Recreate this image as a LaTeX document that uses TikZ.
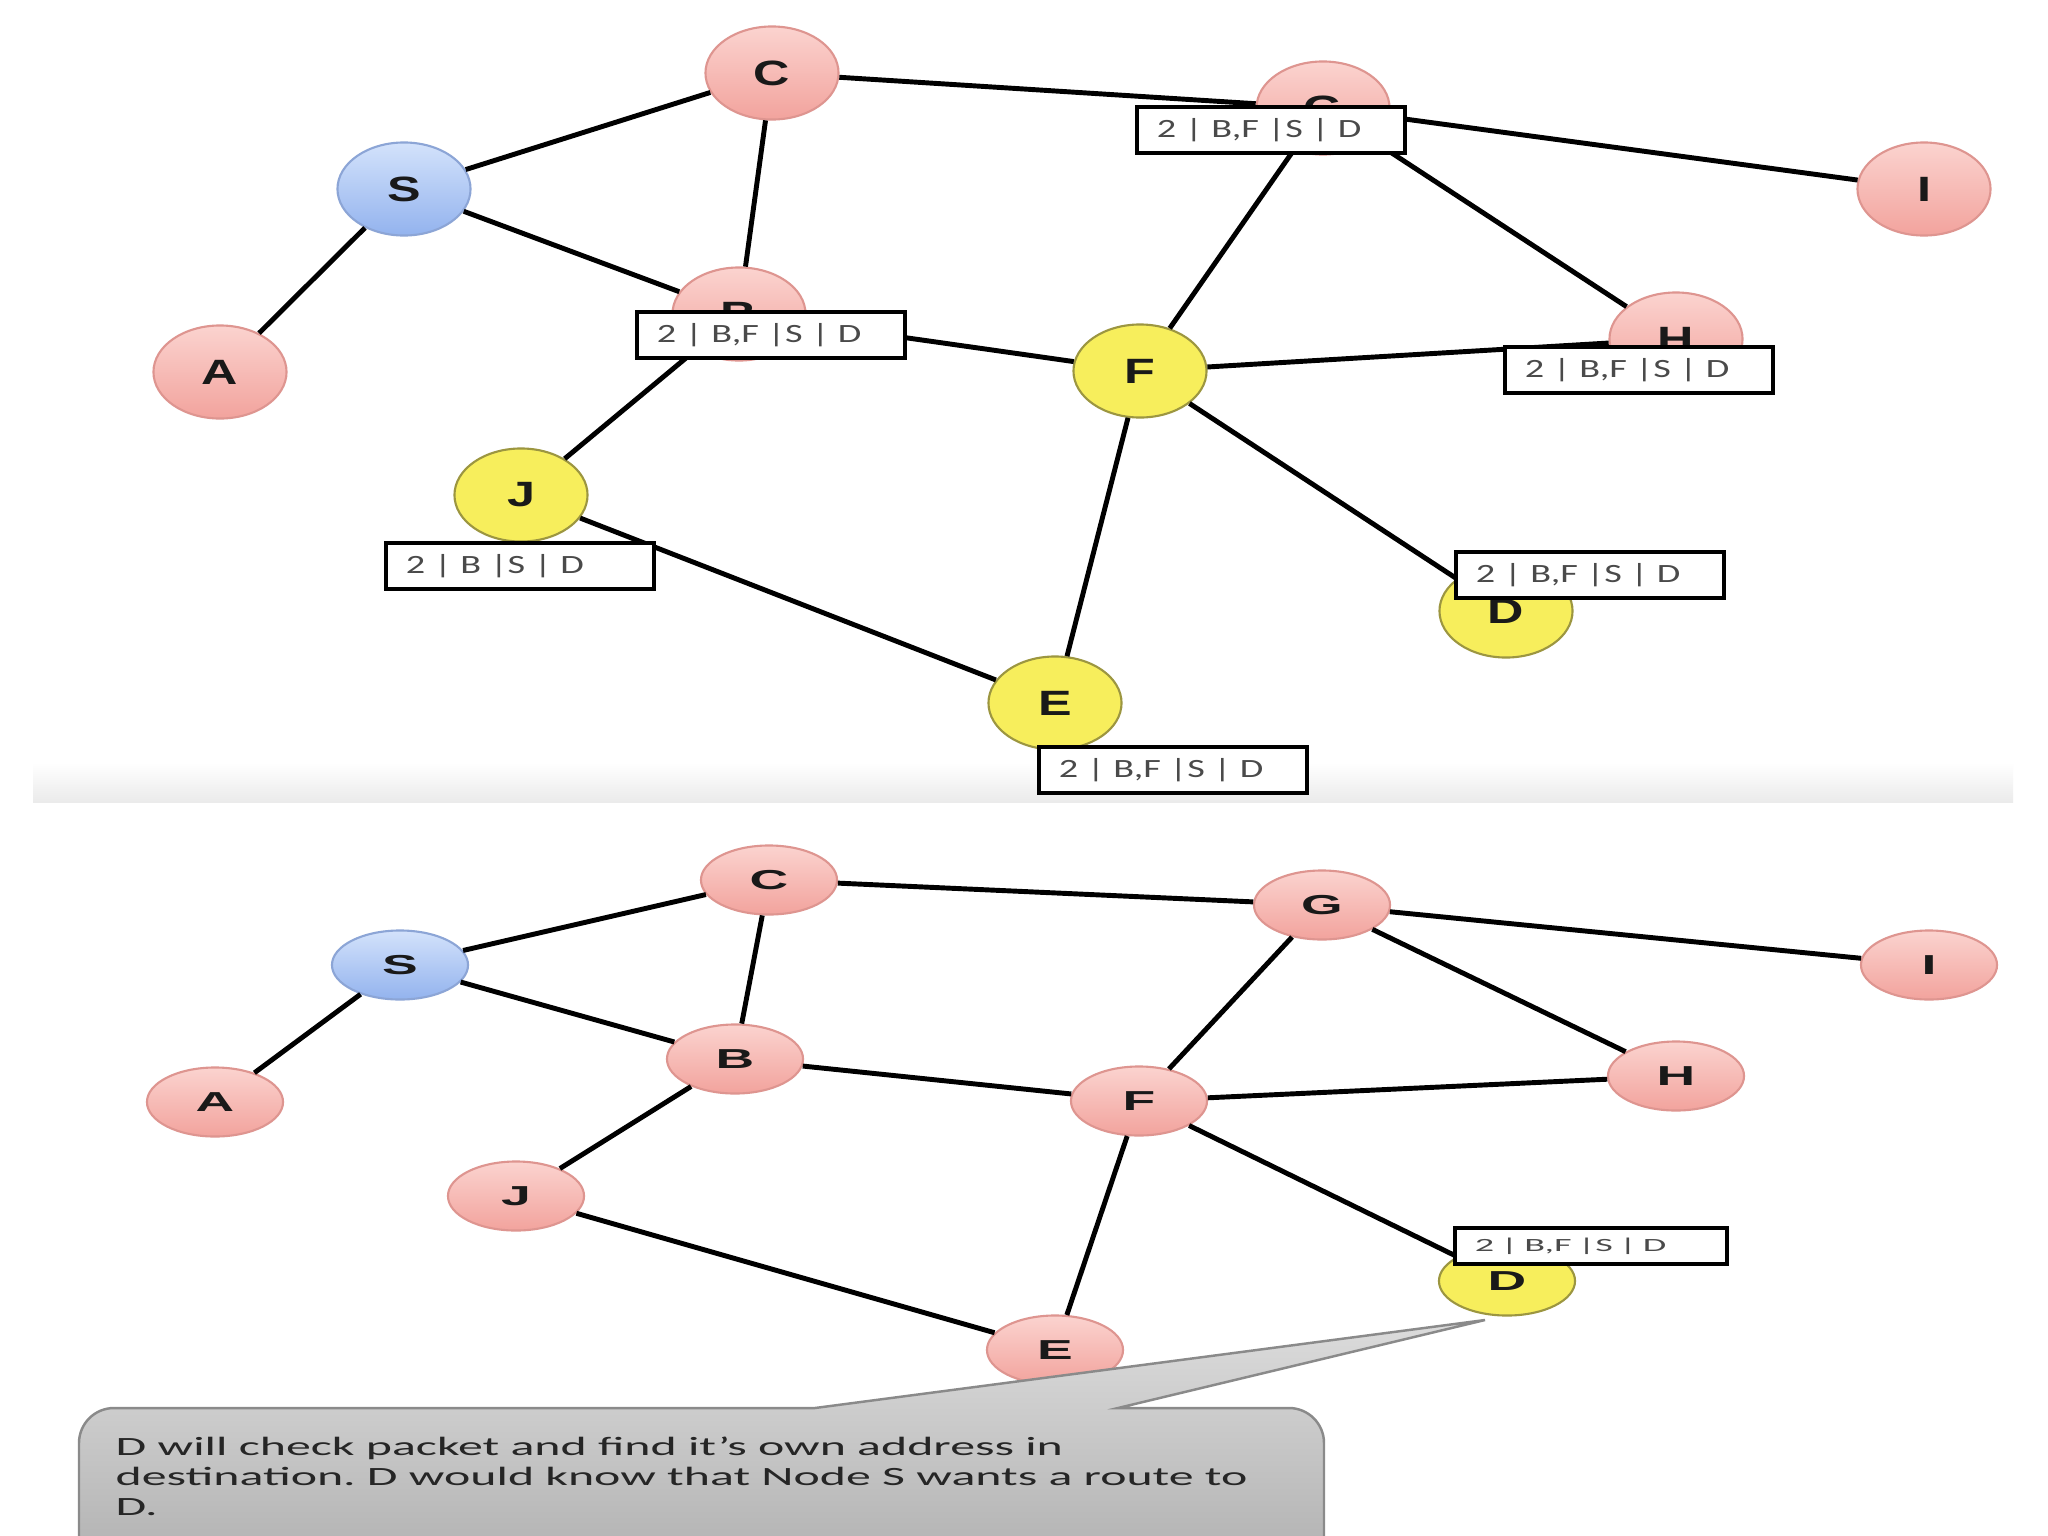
\documentclass[tikz,border=0pt]{standalone}
\usepackage{fontspec}
\usetikzlibrary{shapes.geometric}
\newfontfamily\nfA[FakeStretch=1.43]{Liberation Sans}
\newfontfamily\nfB[FakeStretch=1.95]{Liberation Sans}
\newfontfamily\lfA[FakeStretch=1.45]{Carlito}
\newfontfamily\lfB[FakeStretch=2.05]{Carlito}
\newfontfamily\cfont[FakeStretch=1.89]{Carlito}
\definecolor{pinkT}{HTML}{FBD3CF}
\definecolor{pinkB}{HTML}{F2A39D}
\definecolor{pinkD}{HTML}{DE9590}
\definecolor{blueT}{HTML}{D3E2FB}
\definecolor{blueB}{HTML}{93B3EE}
\definecolor{blueD}{HTML}{8CA5D6}
\definecolor{yel}{HTML}{F7EE5C}
\definecolor{yelD}{HTML}{9C9640}
\definecolor{labtxt}{HTML}{4A4A4A}
\definecolor{callT}{HTML}{DCDCDC}
\definecolor{callB}{HTML}{ABABAB}
\definecolor{callD}{HTML}{8A8A8A}
\tikzset{
  vtxA/.style={ellipse, minimum width=1.33cm, minimum height=0.93cm, inner sep=0pt, line width=0.6pt, text=black!90, font=\nfA\bfseries\fontsize{10}{12}\selectfont},
  vtxB/.style={ellipse, minimum width=1.36cm, minimum height=0.69cm, inner sep=0pt, line width=0.6pt, text=black!90, font=\nfB\bfseries\fontsize{7.8}{9}\selectfont},
  pinkv/.style={draw=pinkD, top color=pinkT, bottom color=pinkB},
  bluev/.style={draw=blueD, top color=blueT, bottom color=blueB},
  yelv/.style={draw=yelD, fill=yel},
  link/.style={line width=1.4pt, black},
  pktA/.style={draw=black, line width=1.3pt, fill=white, text width=2.28cm, inner xsep=0.2cm, inner ysep=0pt, minimum height=0.46cm, align=left, text=labtxt, font=\lfA\fontsize{7.5}{9}\selectfont},
  pktB/.style={draw=black, line width=1.3pt, fill=white, text width=2.32cm, inner xsep=0.2cm, inner ysep=0pt, minimum height=0.36cm, align=left, text=labtxt, font=\lfB\fontsize{5.3}{6}\selectfont},
  callbox/.style={draw=callD, line width=0.7pt, top color=callT, bottom color=callB}
}
\begin{document}
\begin{tikzpicture}[x=0.01cm, y=-0.01cm]
\clip (0,0) rectangle (2048,1536);
\fill[white] (0,0) rectangle (2048,1536);
% separator band
\shade[top color=white, bottom color=black!8] (33,763) rectangle (2013,802);

% ---------- top panel ----------
\node[vtxA, pinkv] (C1) at (772,73) {C};
\node[vtxA, pinkv] (G1) at (1323,108) {G};
\node[vtxA, pinkv] (I1) at (1924,189) {I};
\node[vtxA, bluev] (S1) at (404,189) {S};
\node[vtxA, pinkv] (B1) at (739,314) {B};
\node[vtxA, pinkv] (H1) at (1676,339) {H};
\node[vtxA, pinkv] (A1) at (220,372) {A};
\node[vtxA, yelv]  (F1) at (1140,371) {F};
\node[vtxA, yelv]  (J1) at (521,495) {J};
\node[vtxA, yelv]  (D1) at (1506,611) {D};
\node[vtxA, yelv]  (E1) at (1055,703) {E};

\draw[link] (S1) -- (C1);
\draw[link] (S1) -- (A1);
\draw[link] (S1) -- (B1);
\draw[link] (C1) -- (B1);
\draw[link] (C1) -- (G1);
\draw[link] (G1) -- (I1);
\draw[link] (G1) -- (F1);
\draw[link] (G1) -- (H1);
\draw[link] (B1) -- (F1);
\draw[link] (B1) -- (J1);
\draw[link] (F1) -- (H1);
\draw[link] (F1) -- (D1);
\draw[link] (F1) -- (E1);
\draw[link] (J1) -- (E1);

\node[pktA] (pG) at (1271,130) {2 | B,F |S | D};
\node[pktA] (pB) at (771,335) {2 | B,F |S | D};
\node[pktA] (pH) at (1639,370) {2 | B,F |S | D};
\node[pktA] (pJ) at (520,566) {2 | B |S | D};
\node[pktA] (pD) at (1590,575) {2 | B,F |S | D};
\node[pktA] (pE) at (1173,770) {2 | B,F |S | D};

% ---------- bottom panel ----------
\node[vtxB, pinkv] (C2) at (769,880) {C};
\node[vtxB, pinkv] (G2) at (1322,905) {G};
\node[vtxB, pinkv] (I2) at (1929,965) {I};
\node[vtxB, bluev] (S2) at (400,965) {S};
\node[vtxB, pinkv] (B2) at (735,1059) {B};
\node[vtxB, pinkv] (H2) at (1676,1076) {H};
\node[vtxB, pinkv] (A2) at (215,1102) {A};
\node[vtxB, pinkv] (F2) at (1139,1101) {F};
\node[vtxB, pinkv] (J2) at (516,1196) {J};
\node[vtxB, yelv]  (D2) at (1507,1281) {D};
\node[vtxB, pinkv] (E2) at (1055,1350) {E};

\draw[link] (S2) -- (C2);
\draw[link] (S2) -- (A2);
\draw[link] (S2) -- (B2);
\draw[link] (C2) -- (B2);
\draw[link] (C2) -- (G2);
\draw[link] (G2) -- (I2);
\draw[link] (G2) -- (F2);
\draw[link] (G2) -- (H2);
\draw[link] (B2) -- (F2);
\draw[link] (B2) -- (J2);
\draw[link] (F2) -- (H2);
\draw[link] (F2) -- (D2);
\draw[link] (F2) -- (E2);
\draw[link] (J2) -- (E2);

\node[pktB] (pD2) at (1591,1246) {2 | B,F |S | D};

% callout
\coordinate (tip) at (1485,1320);
\path[callbox] (815,1408) -- (tip) -- (1118,1408) [rounded corners=0.35cm] -- (1324,1408) -- (1324,1600) -- (79,1600) -- (79,1408) [sharp corners] -- cycle;
\node[anchor=north west, align=left, inner sep=0pt, text=black!85, font=\cfont\fontsize{7.5}{8.6}\selectfont\frenchspacing] (note) at (115,1436)
  {D will check packet and find it’s own address in\\destination. D would know that Node S wants a route to\\D.};
\end{tikzpicture}
\end{document}
